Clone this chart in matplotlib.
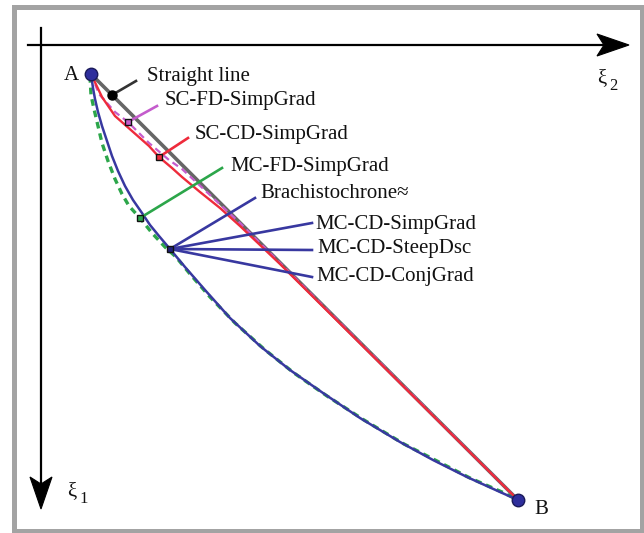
import matplotlib
matplotlib.use("Agg")
import matplotlib.pyplot as plt
from matplotlib.patches import Polygon, Rectangle

# coordinates: xi2 to the right, xi1 downwards, origin at the axes crossing
A = (50, 29)
B = (477, 455)

straight_x = [50, 477]
straight_y = [29, 455]

scfd_x = [50, 58, 74, 87, 108, 128, 141, 169, 199, 477]
scfd_y = [29, 49, 67, 77, 98, 115, 124, 150, 178, 455]

sccd_x = [50, 61, 74, 91, 108, 118, 131, 141, 159, 179, 199, 239, 477]
sccd_y = [29, 52, 71, 86, 101, 112, 123, 132, 147, 163, 181, 219, 455]

mcfd_x = [49, 50, 53, 57, 61, 67, 74, 81, 88, 99, 111, 124, 135, 149, 169, 194, 223,
          253, 286, 323, 363, 396, 429, 461, 477]
mcfd_y = [31, 50, 64, 81, 98, 116, 134, 149, 161, 173, 188, 202, 212, 229, 252, 278, 304,
          328, 351, 375, 399, 416, 433, 447, 455]

brach_x = [50, 52, 54, 57, 61, 66, 71, 77, 84, 92, 101, 109, 118, 129, 144, 164, 189,
           219, 249, 282, 319, 359, 392, 426, 459, 477]
brach_y = [29, 43, 54, 67, 81, 96, 111, 126, 141, 155, 168, 180, 191, 204, 222, 245, 273,
           301, 325, 348, 373, 397, 415, 432, 447, 455]

# label name, marker point, leader end, text position
labels = ["Straight line", "SC-FD-SimpGrad", "SC-CD-SimpGrad", "MC-FD-SimpGrad",
          "Brachistochrone\u2248", "MC-CD-SimpGrad", "MC-CD-SteepDsc", "MC-CD-ConjGrad"]
mark_pts = [(71, 50), (87, 77), (118, 112), (99, 173), (129, 204), (129, 204), (129, 204), (129, 204)]
lead_end = [(95, 36), (116, 61), (147, 93), (181, 123), (214, 153), (271, 178), (271, 205), (271, 232)]
text_pos = [(106, 32), (124, 56), (154, 89), (189, 122), (219, 148), (274, 179), (276, 204), (275, 231)]

c_gray = "#666666"
c_mag = "#c45ccc"
c_red = "#ee2b3b"
c_green = "#2ca64a"
c_blue = "#3838a0"
lead_col = ["#333333", c_mag, c_red, c_green, c_blue, c_blue, c_blue, c_blue]
mark_face = ["black", c_mag, c_red, c_green, "#20207a", None, None, None]

plt.rcParams["font.family"] = ["Liberation Serif", "DejaVu Serif"]

fig = plt.figure(figsize=(6.44, 5.33), dpi=100)
ax = fig.add_axes([0, 0, 1, 1])
ax.set_xlim(-41, 603)
ax.set_ylim(488, -45)
ax.axis("off")

# gray frame
ax.add_patch(Rectangle((-27.5, -38), 628.5, 524, fill=False, ec="#a3a3a3", lw=3.6, zorder=0))

# axes with arrows
ax.plot([-13, 565], [0, 0], color="black", lw=1.6, zorder=1)
ax.plot([0, 0], [-17, 445], color="black", lw=1.6, zorder=1)
ax.add_patch(Polygon([(588, 0), (556, -11), (563, 0), (556, 11)], closed=True, fc="black", ec="black", lw=0.8))
ax.add_patch(Polygon([(0, 464), (-11, 432), (0, 439), (11, 432)], closed=True, fc="black", ec="black", lw=0.8))

tfont = dict(fontsize=15, color="#111111")
ax.text(561, 34, "\u03be", ha="center", va="center", **tfont)
ax.text(572, 41, "2", ha="center", va="center", fontsize=12, color="#111111")
ax.text(31, 447, "\u03be", ha="center", va="center", **tfont)
ax.text(43, 454, "1", ha="center", va="center", fontsize=12, color="#111111")

# curves
ax.plot(straight_x, straight_y, color=c_gray, lw=2.6, zorder=2)
ax.plot(scfd_x, scfd_y, color=c_mag, lw=1.6, ls=(0, (3, 2)), zorder=3)
ax.plot(mcfd_x, mcfd_y, color=c_green, lw=2.4, ls=(0, (2, 1.5)), zorder=3)
ax.plot(sccd_x, sccd_y, color=c_red, lw=1.7, zorder=4)
ax.plot(brach_x, brach_y, color=c_blue, lw=1.8, zorder=5)

# leaders, markers and labels
for i in range(len(labels)):
    mx, my = mark_pts[i]
    ex, ey = lead_end[i]
    ax.plot([mx, ex], [my, ey], color=lead_col[i], lw=1.9, zorder=6)
    tx, ty = text_pos[i]
    ax.text(tx, ty, labels[i], ha="left", va="center", **tfont)
for i in range(len(labels)):
    if mark_face[i] is None:
        continue
    mx, my = mark_pts[i]
    if i == 0:
        ax.plot(mx, my, "o", ms=6.5, mfc="black", mec="black", zorder=8)
    else:
        ax.plot(mx, my, "s", ms=5, mfc=mark_face[i], mec="#111111", mew=1.0, zorder=8)

# end points
ax.plot([A[0], B[0]], [A[1], B[1]], "o", ms=9, mfc="#2e2e9c", mec="#1a1a5a", mew=1.0, zorder=9)
ax.text(30, 30, "A", ha="center", va="center", **tfont)
ax.text(500, 465, "B", ha="center", va="center", **tfont)

fig.savefig("out.png", dpi=100)
